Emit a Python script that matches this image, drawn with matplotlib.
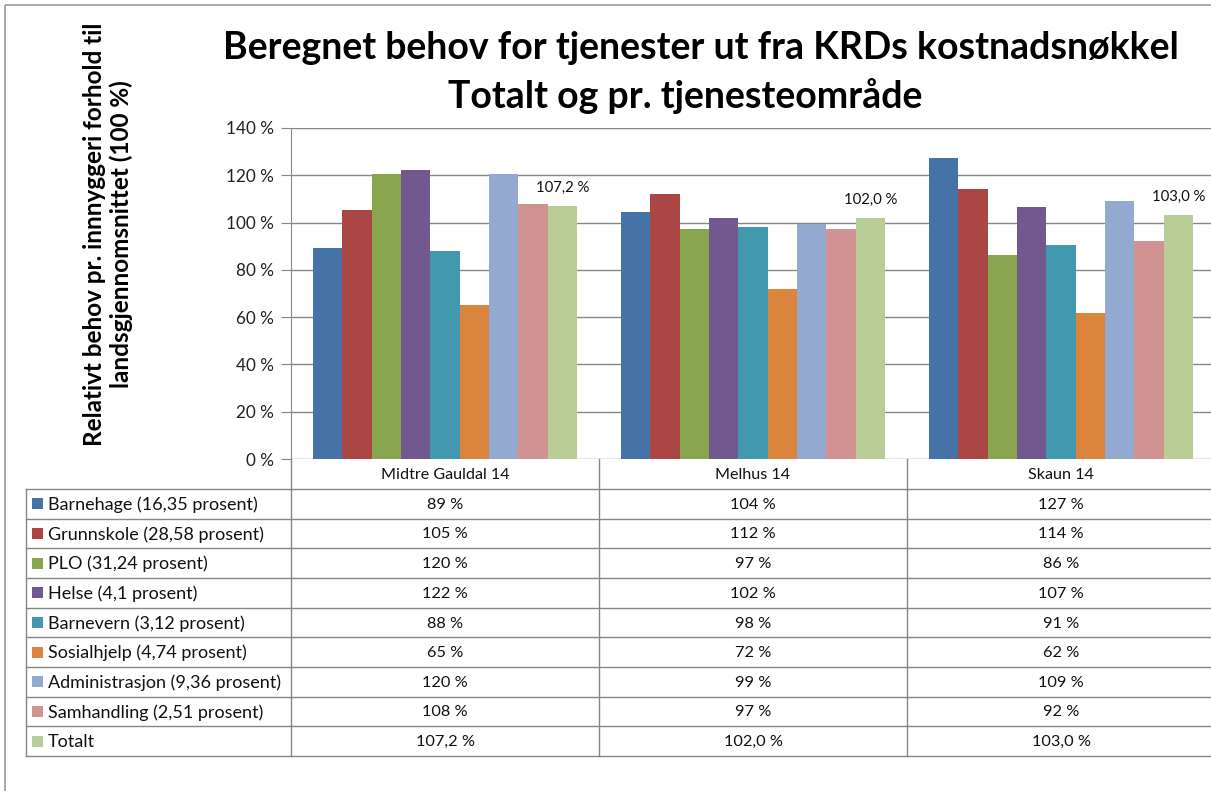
import matplotlib
matplotlib.use("Agg")
import matplotlib.pyplot as plt
from matplotlib.patches import Rectangle
from matplotlib.lines import Line2D

plt.rcParams['font.family'] = ['Lato', 'DejaVu Sans']

categories = ["Midtre Gauldal 14", "Melhus 14", "Skaun 14"]
series_names = ["Barnehage (16,35 prosent)", "Grunnskole (28,58 prosent)",
                "PLO (31,24 prosent)", "Helse (4,1 prosent)",
                "Barnevern (3,12 prosent)", "Sosialhjelp (4,74 prosent)",
                "Administrasjon (9,36 prosent)", "Samhandling (2,51 prosent)",
                "Totalt"]
colors = ["#4572A7", "#AA4643", "#89A54E", "#71588F", "#4198AF",
          "#DB843D", "#93A9CF", "#D19392", "#B9CD96"]

barnehage = [89.4, 104.4, 127.3]
grunnskole = [105.2, 112.1, 114.2]
plo = [120.4, 97.3, 86.4]
helse = [122.3, 101.9, 106.6]
barnevern = [87.9, 98.3, 90.5]
sosialhjelp = [65.1, 71.8, 61.9]
administrasjon = [120.4, 99.4, 109.1]
samhandling = [108.0, 97.2, 92.3]
totalt = [107.2, 102.0, 103.0]
values = [barnehage, grunnskole, plo, helse, barnevern, sosialhjelp,
          administrasjon, samhandling, totalt]

table_text = [
    ["89 %", "104 %", "127 %"],
    ["105 %", "112 %", "114 %"],
    ["120 %", "97 %", "86 %"],
    ["122 %", "102 %", "107 %"],
    ["88 %", "98 %", "91 %"],
    ["65 %", "72 %", "62 %"],
    ["120 %", "99 %", "109 %"],
    ["108 %", "97 %", "92 %"],
    ["107,2 %", "102,0 %", "103,0 %"],
]
yticks = [0, 20, 40, 60, 80, 100, 120, 140]

W, H = 1211, 791
fig = plt.figure(figsize=(W / 100, H / 100), dpi=100)

def fx(x):
    return x / W

def fy(y):
    return 1 - y / H

# plot area
x0, x1 = 291, 1215
y_top, y0 = 128, 459
ax = fig.add_axes([fx(x0), fy(y0), fx(x1 - x0), (y0 - y_top) / H])
ncat = len(categories)
nser = len(values)
bw = 1.0 / (nser + 1.5)
for i, (vals, c) in enumerate(zip(values, colors)):
    xs = [k + 0.75 * bw + (i + 0.5) * bw for k in range(ncat)]
    ax.bar(xs, vals, width=bw, color=c, edgecolor='none', zorder=3)
    if i == nser - 1:
        for xv, v, t in zip(xs, vals, table_text[i]):
            ax.annotate(t, (xv, v), xytext=(0, 8), textcoords='offset points',
                        ha='center', va='bottom', fontsize=10.7, color='#111111')
ax.set_xlim(0, ncat)
ax.set_ylim(0, 140)
ax.set_yticks(yticks)
ax.set_yticklabels([f"{t} %" for t in yticks], fontsize=12.3, color='#222222')
ax.set_xticks([])
ax.grid(axis='y', color='#868686', linewidth=1.0, zorder=0)
for s in ['top', 'right', 'bottom']:
    ax.spines[s].set_visible(False)
ax.spines['left'].set_color('#868686')
ax.tick_params(axis='y', length=7, color='#868686', pad=5)
ax.set_facecolor('none')

# overlay axes in pixel coordinates for table / frame
ov = fig.add_axes([0, 0, 1, 1], zorder=5)
ov.set_xlim(0, W)
ov.set_ylim(H, 0)
ov.axis('off')
ov.patch.set_alpha(0)

lc = '#868686'
# outer frame
ov.add_patch(Rectangle((5, 5), W + 10, H + 10, fill=False, edgecolor='#999999', lw=1.2))

# table geometry
tl = 26
hdr_top, hdr_bot = 459, 489
row_h = (756 - 489) / 9
col_edges = [x0 + k * (x1 - x0) / ncat for k in range(ncat + 1)]
# header row
for xe in col_edges:
    ov.add_line(Line2D([xe, xe], [hdr_top, 756], color=lc, lw=1))
for k, cat in enumerate(categories):
    ov.text((col_edges[k] + col_edges[k + 1]) / 2, (hdr_top + hdr_bot) / 2 + 1, cat,
            ha='center', va='center', fontsize=11.6, color='#111111')
# rows
ov.add_line(Line2D([tl, tl], [hdr_bot, 756], color=lc, lw=1))
for r in range(nser + 1):
    yy = hdr_bot + r * row_h
    ov.add_line(Line2D([tl, W + 10], [yy, yy], color=lc, lw=1))
for r, name in enumerate(series_names):
    yc = hdr_bot + (r + 0.5) * row_h
    ov.add_patch(Rectangle((32, yc - 5.5), 11, 11, facecolor=colors[r], edgecolor='none'))
    ov.text(48, yc + 1, name, ha='left', va='center', fontsize=13, color='#111111')
    for k in range(ncat):
        ov.text((col_edges[k] + col_edges[k + 1]) / 2, yc + 1, table_text[r][k],
                ha='center', va='center', fontsize=11.8, color='#111111')

# title
ov.text(701, 48, "Beregnet behov for tjenester ut fra KRDs kostnadsnøkkel",
        ha='center', va='center', fontsize=27, fontweight='bold', color='black')
ov.text(685, 96, "Totalt og pr. tjenesteområde",
        ha='center', va='center', fontsize=27, fontweight='bold', color='black')

# y label
ov.text(108, 234, "Relativt behov pr. innnyggeri forhold til\nlandsgjennomsnittet (100 %)",
        ha='center', va='center', rotation=90, fontsize=17.5, fontweight='bold',
        color='black', linespacing=1.15, multialignment='center')

fig.savefig("out.png", dpi=100)
